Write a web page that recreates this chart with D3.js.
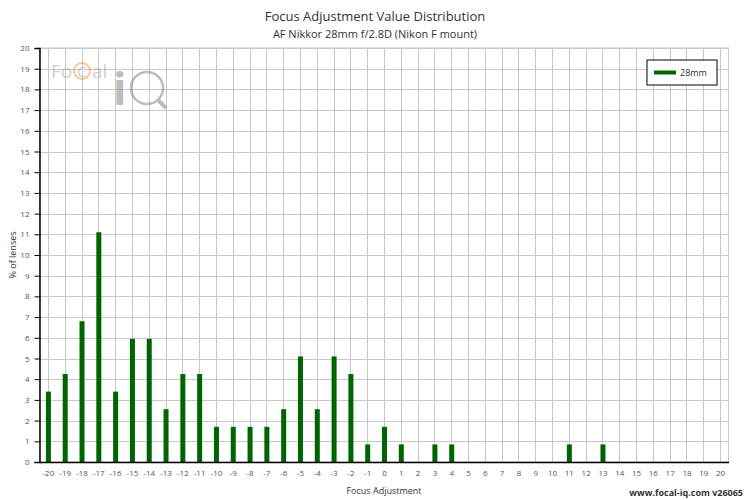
<!DOCTYPE html>
<html><head><meta charset="utf-8">
<script src="https://cdn.jsdelivr.net/npm/d3@7"></script>
<style>body{margin:0;background:#fff}text{font-family:"Open Sans",sans-serif}</style>
</head><body><svg id="c" width="750" height="500"></svg>
<script>
const categories = d3.range(-20, 21);
const seriesName = "28mm";
const values = [3.4,4.25,6.8,11.1,3.4,5.95,5.95,2.55,4.25,4.25,1.7,1.7,1.7,1.7,2.55,5.1,2.55,5.1,4.25,0.85,1.7,0.85,0,0.85,0.85,0,0,0,0,0,0,0.85,0,0.85,0,0,0,0,0,0,0];
const yTicks = d3.range(0, 21);

const svg = d3.select("#c");
const L=39.5,R=728.5,T=48,B=462;
const x = d3.scaleLinear().domain([-20.5,20.5]).range([L,R]);
const y = d3.scaleLinear().domain([0,20]).range([B,T]);

svg.append("text").attr("x",375).attr("y",21).attr("text-anchor","middle").attr("font-size",13).attr("fill","#333").text("Focus Adjustment Value Distribution");
svg.append("text").attr("x",375).attr("y",38).attr("text-anchor","middle").attr("font-size",11).attr("fill","#333").text("AF Nikkor 28mm f/2.8D (Nikon F mount)");

const g = svg.append("g");
// grid
g.selectAll(".hg").data(yTicks).join("line").attr("x1",L).attr("x2",R).attr("y1",d=>Math.round(y(d))+.5).attr("y2",d=>Math.round(y(d))+.5).attr("stroke","#c8c8c8");
g.selectAll(".vg").data(categories).join("line").attr("y1",T).attr("y2",B).attr("x1",d=>Math.round(x(d))+.5).attr("x2",d=>Math.round(x(d))+.5).attr("stroke","#c8c8c8");
g.append("rect").attr("x",L).attr("y",T).attr("width",R-L).attr("height",B-T).attr("fill","none").attr("stroke","#c8c8c8");

// watermark
const wm = svg.append("g").attr("opacity",0.55);
wm.append("text").attr("x",51).attr("y",78).attr("font-size",19).attr("fill","#aaa").text("Fo");
wm.append("circle").attr("cx",82).attr("cy",71).attr("r",8).attr("fill","none").attr("stroke","#f0a040").attr("stroke-width",2);
wm.append("text").attr("x",77).attr("y",77).attr("font-size",15).attr("fill","#aaa").text("C");
wm.append("text").attr("x",92).attr("y",78).attr("font-size",19).attr("fill","#aaa").text("al");
wm.append("text").attr("x",113).attr("y",105).attr("font-size",44).attr("font-weight","bold").attr("fill","#888").text("i");
wm.append("circle").attr("cx",147).attr("cy",88).attr("r",16).attr("fill","none").attr("stroke","#888").attr("stroke-width",2.5);
wm.append("line").attr("x1",158).attr("y1",100).attr("x2",166).attr("y2",108).attr("stroke","#888").attr("stroke-width",4);

// bars
g.selectAll(".bar").data(categories.map((c,i)=>({c,v:values[i]})).filter(d=>d.v>0)).join("rect")
 .attr("x",d=>x(d.c)-2).attr("width",5).attr("y",d=>y(d.v)).attr("height",d=>B-y(d.v)).attr("fill","#006400");

// axes
const ya = svg.append("g").attr("transform",`translate(${L},0)`).call(d3.axisLeft(y).tickValues(yTicks).tickSize(5).tickPadding(5));
const xa = svg.append("g").attr("transform",`translate(0,${B})`).call(d3.axisBottom(x).tickValues(categories).tickSize(0).tickPadding(8));
[ya,xa].forEach(a=>{a.selectAll("text").attr("font-size",8).attr("fill","#555").style("font-family","Open Sans");a.select(".domain").attr("stroke","#000").attr("stroke-width",1.5);a.selectAll(".tick line").attr("stroke","#000");});
xa.selectAll("text").text(d=>d<0?"-"+Math.abs(d):d);

svg.append("text").attr("x",384).attr("y",494).attr("text-anchor","middle").attr("font-size",9).attr("fill","#333").text("Focus Adjustment");
svg.append("text").attr("transform","translate(16,255) rotate(-90)").attr("text-anchor","middle").attr("font-size",9).attr("fill","#333").text("% of lenses");
svg.append("text").attr("x",743).attr("y",496).attr("text-anchor","end").attr("font-size",9).attr("font-weight","bold").attr("fill","#333").text("www.focal-iq.com  v26065");

// legend
const lg = svg.append("g");
lg.append("rect").attr("x",647).attr("y",60).attr("width",70).attr("height",25).attr("fill","#fff").attr("stroke","#000");
lg.append("line").attr("x1",654).attr("x2",676).attr("y1",72.5).attr("y2",72.5).attr("stroke","#006400").attr("stroke-width",4);
lg.append("text").attr("x",680).attr("y",76).attr("font-size",9).attr("fill","#333").text(seriesName);
</script></body></html>
